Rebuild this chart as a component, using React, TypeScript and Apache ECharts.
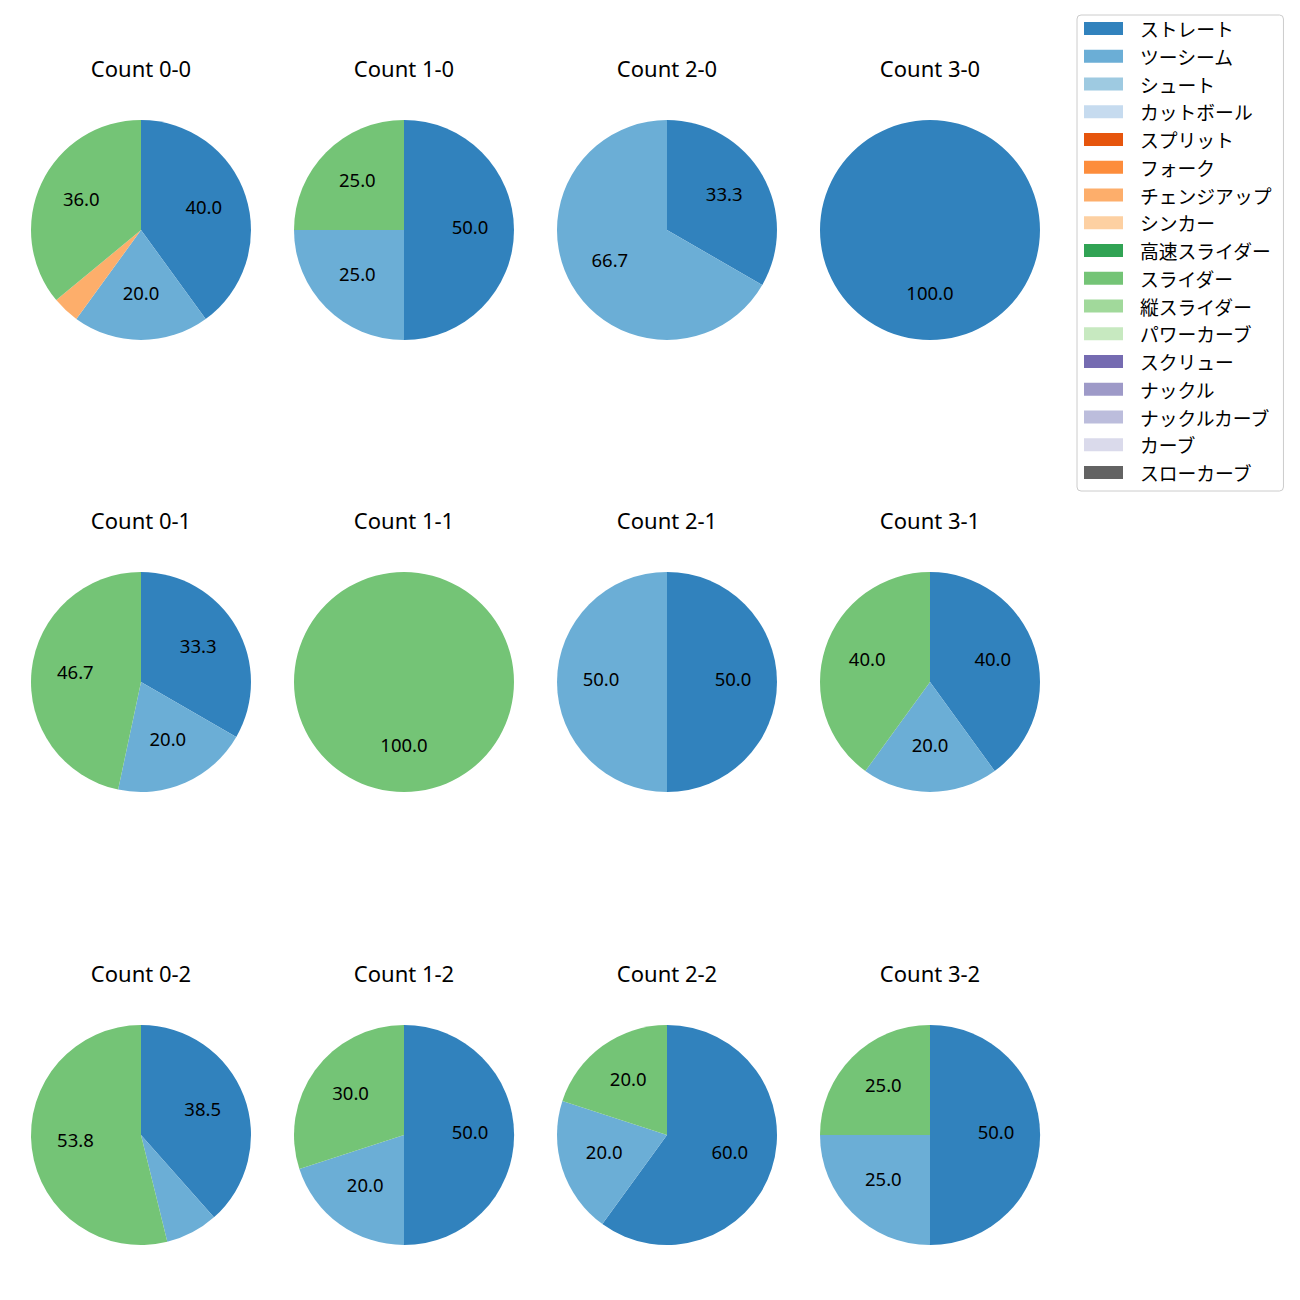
import React, { useEffect, useRef } from "react";
import * as echarts from "echarts";

const pitchTypes = [
  "ストレート", "ツーシーム", "シュート", "カットボール", "スプリット", "フォーク",
  "チェンジアップ", "シンカー", "高速スライダー", "スライダー", "縦スライダー",
  "パワーカーブ", "スクリュー", "ナックル", "ナックルカーブ", "カーブ", "スローカーブ",
];
const colors = [
  "#3182bd", "#6baed6", "#9ecae1", "#c6dbef", "#e6550d", "#fd8d3c", "#fdae6b",
  "#fdd0a2", "#31a354", "#74c476", "#a1d99b", "#c7e9c0", "#756bb1", "#9e9ac8",
  "#bcbddc", "#dadaeb", "#636363",
];
const countLabels = ["0-0", "1-0", "2-0", "3-0", "0-1", "1-1", "2-1", "3-1", "0-2", "1-2", "2-2", "3-2"];
const straightCounts = [10, 2, 1, 1, 5, 0, 1, 2, 5, 5, 3, 2];
const twoSeamCounts = [5, 1, 2, 0, 3, 0, 1, 1, 1, 2, 1, 1];
const changeupCounts = [1, 0, 0, 0, 0, 0, 0, 0, 0, 0, 0, 0];
const sliderCounts = [9, 1, 0, 0, 7, 1, 0, 2, 7, 3, 1, 1];

const colX = [141, 404, 667, 930];
const rowY = [230, 682, 1135];
const R = 110;

function valuesFor(countIdx: number): number[] {
  return pitchTypes.map((_, t) => {
    if (t === 0) return straightCounts[countIdx];
    if (t === 1) return twoSeamCounts[countIdx];
    if (t === 6) return changeupCounts[countIdx];
    if (t === 9) return sliderCounts[countIdx];
    return 0;
  });
}

export default function App() {
  const ref = useRef<HTMLDivElement>(null);
  useEffect(() => {
    document.body.style.margin = "0";
    const chart = echarts.init(ref.current!, null, { renderer: "svg" });
    const titles: any[] = [];
    const pies: any[] = [];
    const labels: any[] = [];
    countLabels.forEach((c, i) => {
      const cx = colX[i % 4];
      const cy = rowY[Math.floor(i / 4)];
      const vals = valuesFor(i);
      const total = vals.reduce((a, b) => a + b, 0);
      const data = pitchTypes.map((name, t) => ({
        name,
        value: vals[t],
        itemStyle: { color: colors[t] },
      }));
      titles.push({
        text: "Count " + c,
        left: cx,
        top: cy - 162,
        textAlign: "center",
        textVerticalAlign: "middle",
        padding: 0,
        textStyle: { fontFamily: "Noto Sans", fontSize: 22, fontWeight: "normal", color: "#000" },
      });
      pies.push({
        type: "pie",
        center: [cx, cy],
        radius: R,
        startAngle: 90,
        clockwise: true,
        avoidLabelOverlap: false,
        label: { show: false },
        labelLine: { show: false },
        itemStyle: { borderWidth: 0 },
        emphasis: { disabled: true },
        data,
      });
      labels.push({
        type: "pie",
        center: [cx, cy],
        radius: [16, R],
        startAngle: 90,
        clockwise: true,
        silent: true,
        avoidLabelOverlap: false,
        legendHoverLink: false,
        emphasis: { disabled: true },
        itemStyle: { color: "rgba(0,0,0,0)", borderWidth: 0 },
        labelLine: { show: false },
        label: {
          show: true,
          position: "inside",
          color: "#000",
          fontFamily: "Noto Sans",
          fontSize: 18.5,
          offset: [0, -3.5],
          formatter: (p: any) => {
            const pct = (p.value / total) * 100;
            return pct >= 10 ? pct.toFixed(1) : "";
          },
        },
        data: pitchTypes.map((name, t) => ({ name, value: vals[t] })),
      });
    });
    chart.setOption({
      animation: false,
      title: titles,
      legend: {
        orient: "vertical",
        left: 1077,
        top: 15,
        data: pitchTypes,
        icon: "rect",
        itemWidth: 39,
        itemHeight: 13,
        itemGap: 7.75,
        selectedMode: false,
        padding: [3.5, 12, 8.5, 7],
        backgroundColor: "rgba(255,255,255,0.8)",
        borderColor: "#cccccc",
        borderWidth: 1,
        borderRadius: 4,
        textStyle: {
          fontFamily: "Noto Sans CJK JP",
          fontSize: 18.8,
          lineHeight: 20,
          color: "#000",
          padding: [0, 0, 0, 12],
        },
      },
      series: [...pies, ...labels],
    });
    return () => chart.dispose();
  }, []);
  return <div ref={ref} style={{ width: 1300, height: 1300 }} />;
}
